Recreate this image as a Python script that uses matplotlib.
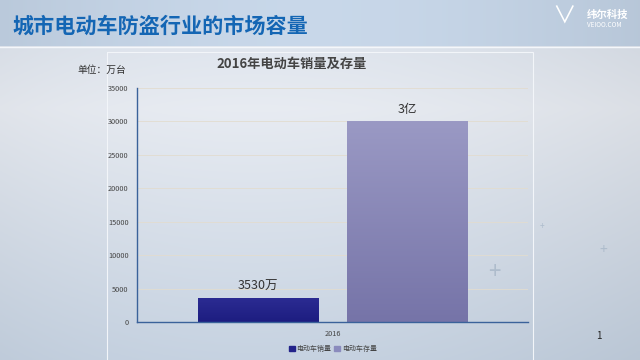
import numpy as np
import matplotlib.pyplot as plt
from matplotlib.patches import Rectangle
from matplotlib.colors import LinearSegmentedColormap

plt.rcParams['font.family'] = ['Noto Sans CJK SC', 'DejaVu Sans']

# 数据
categories = ['2016']
series_names = ['电动车销量', '电动车存量']
series_values = [3530, 30000]
bar_labels = ['3530万', '3亿']
y_ticks = [0, 5000, 10000, 15000, 20000, 25000, 30000, 35000]
bar_colors = ['#23238a', '#8a8bbd']
bar_grad = [('#2b2b92', '#1d1d80'), ('#9a99c4', '#7674a8')]

W, H = 640, 360
fig = plt.figure(figsize=(6.4, 3.6), dpi=100)

# 背景渐变
bg = fig.add_axes([0, 0, 1, 1])
bg.set_xlim(0, W)
bg.set_ylim(H, 0)
bg.axis('off')
yy = np.linspace(0, 1, 200)[:, None]
xx = np.linspace(0, 1, 300)[None, :]
mid = np.array([0.93, 0.945, 0.97])
bot = np.array([0.79, 0.84, 0.90])
t = np.clip(1 - np.abs(yy - 0.3) / 0.75, 0, 1)[..., None]
img = bot * (1 - t) + mid * t
img = img - 0.07 * (xx[..., None] ** 2) - 0.05 * ((1 - xx[..., None]) ** 3)
img = np.clip(img, 0, 1) * np.ones((200, 300, 1))
bg.imshow(img, extent=[0, W, H, 0], aspect='auto', zorder=0)
# 标题栏
fade = np.linspace(0, 1, 300)[None, :, None]
base = np.array([0.73, 0.79, 0.86])
head = base + 0.06 * np.sin(np.pi * fade) - 0.01 * fade
head = head * np.ones((50, 300, 1))
bg.imshow(np.clip(head, 0, 1), extent=[0, W, 46, 0], aspect='auto', zorder=1)
bg.plot([0, W], [46.5, 46.5], color='#f4f7fb', lw=1, zorder=2)
bg.add_patch(Rectangle((107, 52), 426, 320, fill=False, ec='#f2f5f9', lw=0.8, zorder=2))

bg.text(12, 33, '城市电动车防盗行业的市场容量', fontsize=15.2, fontweight='bold',
        color='#1466b4', va='baseline', zorder=3)
bg.text(564, 17, '∨', fontsize=17, color='white', ha='center', va='center', zorder=3)
bg.text(587, 15, '纬尔科技', fontsize=7.5, fontweight='bold', color='white', va='center', zorder=3)
bg.text(587, 25, 'VEIOO.COM', fontsize=4.6, color='white', va='center', zorder=3)

bg.text(77, 70, '单位：万台', fontsize=7, color='#333333', va='center', zorder=3)
bg.text(292, 64, '2016年电动车销量及存量', fontsize=9.5, fontweight='bold',
        color='#444444', ha='center', va='center', zorder=3)
bg.text(599, 336, '1', fontsize=7, color='#222222', ha='center', va='center', zorder=3)
for px, py, s in [(494, 272, 16), (603, 250, 10), (542, 227, 6)]:
    bg.text(px, py, '+', fontsize=s, color='#aebccc', ha='center', va='center', zorder=3)

# 图表
ax = fig.add_axes([137 / W, 1 - 322 / H, (528 - 137) / W, (322 - 88) / H])
ax.patch.set_alpha(0)
x = np.array([-0.381, 0.381])
width = 0.614
bars = ax.bar(x, series_values, width=width, color=bar_colors, zorder=3)
for b, lab, (c1, c2) in zip(bars, bar_labels, bar_grad):
    cmap = LinearSegmentedColormap.from_list('g', [c2, c1])
    x0, x1 = b.get_x(), b.get_x() + b.get_width()
    im = ax.imshow(np.linspace(0, 1, 100)[:, None], cmap=cmap, origin='lower',
                   extent=[x0, x1, 0, b.get_height()], aspect='auto', zorder=4)
    im.set_clip_path(b)
    ax.text((x0 + x1) / 2, b.get_height() + 800, lab,
            ha='center', va='bottom', fontsize=9, color='#333333')
ax.set_xlim(-1, 1)
ax.set_ylim(0, 35000)
ax.set_yticks(y_ticks)
ax.set_yticklabels([str(v) for v in y_ticks], fontsize=5.3, color='#444444')
ax.set_xticks([0])
ax.set_xticklabels(categories, fontsize=5.3, color='#444444')
ax.tick_params(length=0, pad=6)
ax.yaxis.grid(True, color='#e2dccf', lw=0.6, zorder=0)
for s in ['top', 'right']:
    ax.spines[s].set_visible(False)
for s in ['left', 'bottom']:
    ax.spines[s].set_color('#3a629a')
    ax.spines[s].set_linewidth(1)
    ax.spines[s].set_zorder(5)

# 图例
handles = [Rectangle((0, 0), 1, 1, color=c) for c in bar_colors]
fig.legend(handles, series_names, loc='center', bbox_to_anchor=(333 / W, 1 - 349 / H),
           ncol=2, frameon=False, fontsize=5, handlelength=0.8, handleheight=0.8,
           handletextpad=0.3, columnspacing=0.4, labelcolor='#444444')

fig.savefig('out.png', dpi=100)
